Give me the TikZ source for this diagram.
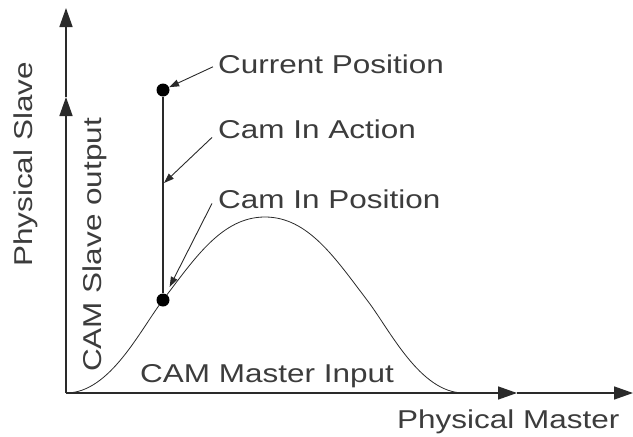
\documentclass[tikz,border=0pt]{standalone}
\usepackage{fontspec}
\setmainfont[FakeStretch=1.22]{Liberation Sans}
\usetikzlibrary{arrows.meta}
\definecolor{inkgray}{HTML}{2A2A2A}
\definecolor{txtgray}{HTML}{3C3C3C}
\newcommand{\lblfont}{\fontsize{25.8}{30}\selectfont}
\begin{document}
\begin{tikzpicture}[x=1pt, y=-1pt,
    lbl/.style={font=\lblfont, text=txtgray, inner sep=0pt},
    axis/.style={draw=inkgray, line width=1.5pt, -{Triangle[length=19pt, width=13pt]}},
    pointer/.style={draw=inkgray, line width=0.9pt, -{Triangle[length=10pt, width=7pt]}},
    dot/.style={circle, fill=black, inner sep=0pt, minimum size=13pt}]
    \useasboundingbox (0,0) rectangle (633,437);

    % Axis points
    \coordinate (O) at (66,393);
    \coordinate (Ys) at (66,97);
    \coordinate (Yp) at (66,8);
    \coordinate (Xs) at (517,393);
    \coordinate (Xp) at (633,393);

    % Axes
    \draw[axis] (O) -- (Ys);
    \draw[axis] (Ys) -- (Yp);
    \draw[axis] (O) -- (Xs);
    \draw[axis] (Xs) -- (Xp);

    % Axis labels
    \node[lbl, rotate=90, anchor=base west] (pslave) at (32,267) {Physical Slave};
    \node[lbl, rotate=90, anchor=base west] (cslave) at (101,372) {CAM Slave output};
    \node[lbl, anchor=base west] (pmaster) at (397,428) {Physical Master};
    \node[lbl, anchor=base west] (cmaster) at (140,382) {CAM Master Input};

    % Cam profile
    \draw[inkgray, line width=0.8pt] (O)
        .. controls (110,393) and (140,330) .. (163,300)
        .. controls (195,258) and (222,217) .. (265,217)
        .. controls (308,217) and (335,258) .. (367,300)
        .. controls (390,330) and (420,393) .. (464,393);

    % Slave positions
    \node[dot] (inpos) at (163,300) {};
    \node[dot] (curpos) at (163,90) {};
    \draw[inkgray, line width=1.3pt] (inpos) -- (curpos);
    \coordinate (action) at (164,183);

    % Pointer labels
    \node[lbl, anchor=base west] (tcur) at (218,73) {Current Position};
    \node[lbl, anchor=base west] (tact) at (218,138) {Cam In Action};
    \node[lbl, anchor=base west] (tpos) at (218,208) {Cam In Position};

    \draw[pointer] ([xshift=-5pt, yshift=-3pt]tcur.west) -- (curpos);
    \draw[pointer] ([xshift=-6pt, yshift=1pt]tact.south west) -- (action);
    \draw[pointer, shorten >=8pt] ([xshift=-6pt, yshift=5pt]tpos.south west) -- (inpos);
\end{tikzpicture}
\end{document}
